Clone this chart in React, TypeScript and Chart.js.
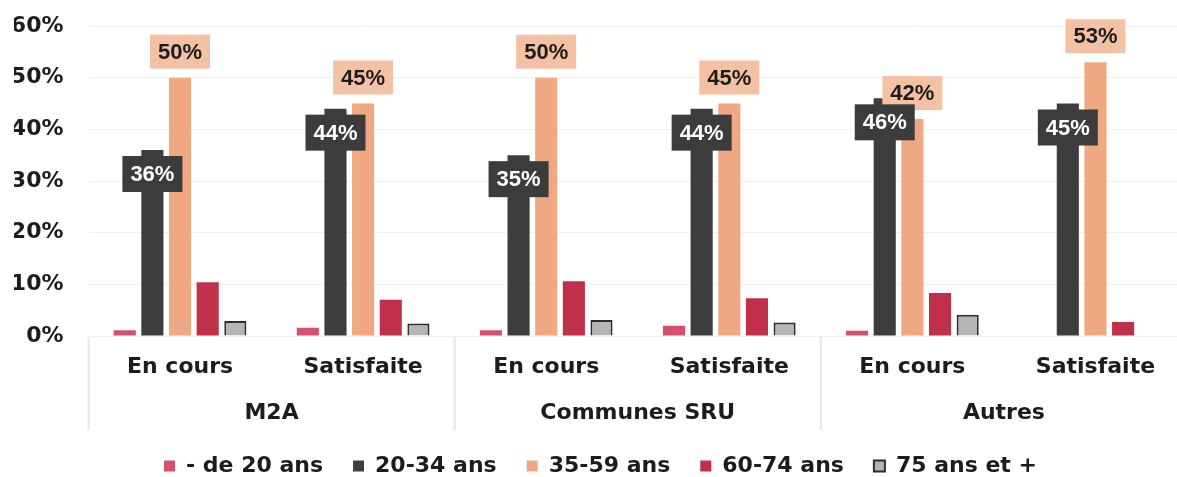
import React, { useEffect, useRef } from "react";
import { Chart, registerables } from "chart.js";

Chart.register(...registerables);

const subCategories = ["En cours", "Satisfaite", "En cours", "Satisfaite", "En cours", "Satisfaite"];
const groups = ["M2A", "Communes SRU", "Autres"];
const seriesNames = ["- de 20 ans", "20-34 ans", "35-59 ans", "60-74 ans", "75 ans et +"];
const under20 = [1.1, 1.6, 1.1, 2.0, 1.0, null];
const age20to34 = [36, 44, 35, 44, 46, 45];
const age35to59 = [50, 45, 50, 45, 42, 53];
const age60to74 = [10.4, 7.0, 10.6, 7.3, 8.3, 2.7];
const age75plus = [2.9, 2.4, 3.1, 2.6, 4.1, null];
const yTickValues = [0, 10, 20, 30, 40, 50, 60];

const AXIS_FONT = "'DejaVu Sans', Verdana, sans-serif";
const LABEL_FONT = "'Liberation Sans', Arial, sans-serif";
const TEXT = "#1c1c1c";

const labelPlugin = {
  id: "boxLabels",
  afterDatasetsDraw(chart: any) {
    const ctx = chart.ctx;
    const specs = [
      { index: 2, fill: "#F4C1A4", color: "#1c1c1c", dy: -26, h: 34 },
      { index: 1, fill: "#3c3c3c", color: "#ffffff", dy: 24, h: 36 },
    ];
    ctx.save();
    ctx.font = `bold 22px ${LABEL_FONT}`;
    ctx.textAlign = "center";
    ctx.textBaseline = "middle";
    for (const s of specs) {
      const meta = chart.getDatasetMeta(s.index);
      const values = chart.data.datasets[s.index].data;
      meta.data.forEach((el: any, i: number) => {
        const v = values[i];
        if (v == null) return;
        const cx = el.x;
        const cy = el.y + s.dy;
        const w = 60;
        ctx.fillStyle = s.fill;
        ctx.fillRect(cx - w / 2, cy - s.h / 2, w, s.h);
        ctx.fillStyle = s.color;
        ctx.fillText(`${Math.round(v)}%`, cx, cy + 1);
      });
    }
    ctx.restore();
  },
};

const groupPlugin = {
  id: "groupAxis",
  afterDraw(chart: any) {
    const ctx = chart.ctx;
    const x = chart.scales.x;
    const bottom = chart.chartArea.bottom;
    const catW = x.getPixelForValue(1) - x.getPixelForValue(0);
    ctx.save();
    ctx.strokeStyle = "#e6e6e6";
    ctx.lineWidth = 2;
    groups.forEach((g, gi) => {
      const left = x.getPixelForValue(gi * 2) - catW / 2;
      ctx.beginPath();
      ctx.moveTo(left, bottom + 1);
      ctx.lineTo(left, bottom + 94);
      ctx.stroke();
    });
    ctx.font = `bold 22px ${AXIS_FONT}`;
    ctx.fillStyle = TEXT;
    ctx.textAlign = "center";
    ctx.textBaseline = "middle";
    groups.forEach((g, gi) => {
      const cx = (x.getPixelForValue(gi * 2) + x.getPixelForValue(gi * 2 + 1)) / 2;
      ctx.fillText(g, cx, bottom + 77);
    });
    ctx.restore();
  },
};

export default function App() {
  const ref = useRef<HTMLCanvasElement | null>(null);
  useEffect(() => {
    if (!ref.current) return;
    const common = { barPercentage: 0.8, categoryPercentage: 0.755 };
    const chart = new Chart(ref.current, {
      type: "bar",
      data: {
        labels: subCategories,
        datasets: [
          { label: seriesNames[0], data: under20, backgroundColor: "#D64F6F", borderWidth: 0, ...common },
          { label: seriesNames[1], data: age20to34, backgroundColor: "#3d3d3d", borderWidth: 0, ...common },
          { label: seriesNames[2], data: age35to59, backgroundColor: "#EFA882", borderWidth: 0, ...common },
          { label: seriesNames[3], data: age60to74, backgroundColor: "#C1304B", borderWidth: 0, ...common },
          { label: seriesNames[4], data: age75plus, backgroundColor: "#B5B5B5", borderColor: "#2e2e2e", borderWidth: 2, ...common },
        ],
      },
      options: {
        responsive: false,
        animation: false,
        layout: { padding: { top: 26, left: 14, right: 0, bottom: 0 } },
        plugins: {
          tooltip: { enabled: false },
          legend: {
            position: "bottom",
            labels: {
              boxWidth: 11,
              boxHeight: 11,
              padding: 30,
              color: TEXT,
              font: { family: AXIS_FONT, size: 22, weight: "bold" },
            },
          },
        },
        scales: {
          x: {
            grid: { display: false },
            border: { display: false },
            ticks: {
              color: TEXT,
              padding: 10,
              font: { family: AXIS_FONT, size: 22, weight: "bold" },
            },
            afterFit(scale: any) {
              scale.height = 89;
            },
          },
          y: {
            min: 0,
            max: 60,
            border: { display: false },
            grid: { color: "#f1f1f1", drawTicks: false },
            afterBuildTicks(scale: any) {
              scale.ticks = yTickValues.map((v) => ({ value: v }));
            },
            ticks: {
              color: TEXT,
              padding: 25,
              font: { family: AXIS_FONT, size: 22, weight: "bold" },
              callback: (v: any) => `${v}%`,
            },
            afterFit(scale: any) {
              scale.width = 74.5;
              scale.paddingTop = 0;
              scale.paddingBottom = 0;
            },
          },
        },
      },
      plugins: [labelPlugin, groupPlugin],
    });
    return () => chart.destroy();
  }, []);
  return (
    <div style={{ position: "fixed", left: 0, top: 0, width: 1187, height: 487, overflow: "hidden", background: "#fff" }}>
      <canvas ref={ref} width={1187} height={487} style={{ display: "block" }} />
    </div>
  );
}
